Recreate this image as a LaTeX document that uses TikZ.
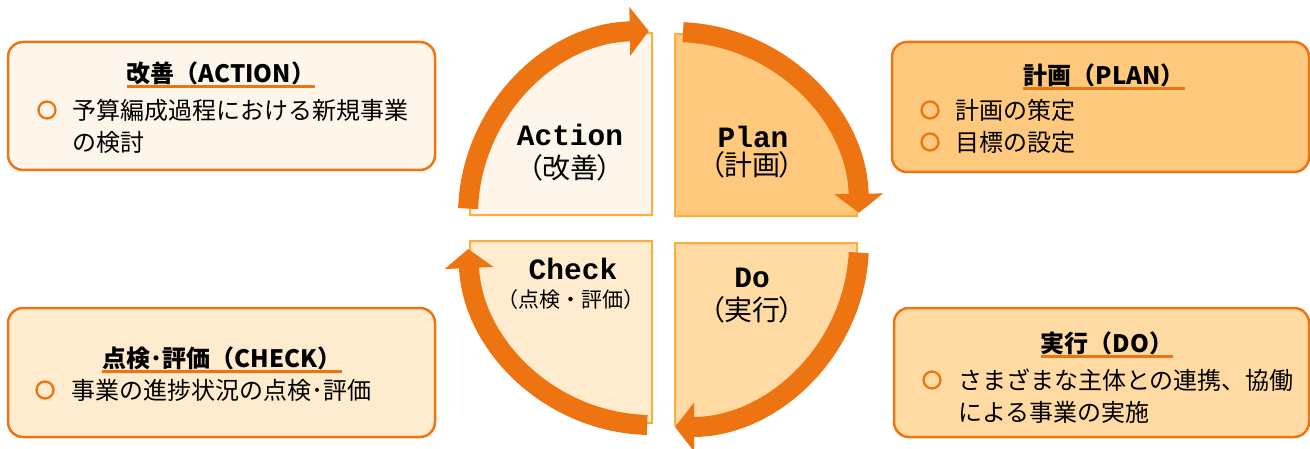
\documentclass[tikz,border=0pt]{standalone}
\usepackage{fontspec}
\setmainfont{Noto Sans CJK JP}
\newfontfamily\jpprop[RawFeature=+palt]{Noto Sans CJK JP}
\newfontfamily\monofont{Liberation Mono}
\usetikzlibrary{arrows.meta}

\definecolor{arroworange}{HTML}{EE7411}
\definecolor{quadline}{HTML}{FBAE3C}
\definecolor{actfill}{HTML}{FFF6EB}
\definecolor{planfill}{HTML}{FFC97D}
\definecolor{checkfill}{HTML}{FFEBCD}
\definecolor{dofill}{HTML}{FFDBA3}

\begin{document}
\begin{tikzpicture}[
            x=1pt, y=1pt,
            infobox/.style={draw=arroworange, line width=2.5pt, rounded corners=15pt},
            quad/.style={draw=quadline, line width=2pt},
            cyclearrow/.style={draw=arroworange, line width=20pt, -{Triangle[width=48pt,length=19pt]}},
            boxtitle/.style={font=\fontsize{24}{28}\selectfont\bfseries, inner sep=0pt},
            boxtext/.style={font=\fontsize{24}{32}\selectfont, align=left, anchor=west, inner sep=0pt},
            bullet/.style={circle, draw=arroworange, line width=2.3pt, minimum size=17pt, inner sep=0pt},
            uline/.style={draw=arroworange, line width=3pt},
            phase/.style={font=\monofont\fontsize{29.5}{32}\selectfont\bfseries, inner sep=0pt},
            phasejp/.style={font=\jpprop\fontsize{28}{32}\selectfont, inner sep=0pt}
            ]
            \useasboundingbox (0,0) rectangle (1310,448);

            % centres of the quadrants
            \coordinate (actc) at (652,233);
            \coordinate (planc) at (675,232);
            \coordinate (doc) at (675,205);
            \coordinate (checkc) at (652,207);

            % quadrants
            \draw[quad, fill=actfill] (actc) -- ++(-182,0) arc[start angle=180, end angle=90, radius=182pt] -- cycle;
            \draw[quad, fill=planfill] (planc) -- ++(0,182) arc[start angle=90, end angle=0, radius=182pt] -- cycle;
            \draw[quad, fill=dofill] (doc) -- ++(182,0) arc[start angle=0, end angle=-90, radius=182pt] -- cycle;
            \draw[quad, fill=checkfill] (checkc) -- ++(0,-182) arc[start angle=270, end angle=180, radius=182pt] -- cycle;

            % cycle arrows
            \draw[cyclearrow] (actc) ++(178:184pt) arc[start angle=178, end angle=91, radius=184pt];
            \draw[cyclearrow] (planc) ++(87.5:184pt) arc[start angle=87.5, end angle=1, radius=184pt];
            \draw[cyclearrow] (doc) ++(-3:184pt) arc[start angle=-3, end angle=-90, radius=184pt];
            \draw[cyclearrow] (checkc) ++(268.5:184pt) arc[start angle=268.5, end angle=182.5, radius=184pt];

            % phase labels
            \node[phase] (actname) at (570,313) {Action};
            \node[phasejp] (actjp) at (570,280) {（改善）};
            \node[phase] (planname) at (753,311) {Plan};
            \node[phasejp] (planjp) at (752,283) {（計画）};
            \node[phase] (doname) at (752,170) {Do};
            \node[phasejp] (dojp) at (752,138) {（実行）};
            \node[phase] (checkname) at (573,179) {Check};
            \node[phasejp, font=\fontsize{21}{24}\selectfont] (checkjp) at (571,148) {（点検・評価）};

            % boxes
            \node[infobox, fill=actfill, minimum width=427pt, minimum height=128pt] (actbox) at (221.5,342) {};
            \node[infobox, fill=planfill, minimum width=417pt, minimum height=130pt] (planbox) at (1100.5,341) {};
            \node[infobox, fill=checkfill, minimum width=427pt, minimum height=129pt] (checkbox) at (221.5,75.5) {};
            \node[infobox, fill=dofill, minimum width=415pt, minimum height=129pt] (dobox) at (1101.5,75.5) {};

            % box titles
            \node[boxtitle] (acttitle) at (221,375) {改善（ACTION）};
            \node[boxtitle] (plantitle) at (1104,373) {計画（PLAN）};
            \node[boxtitle] (checktitle) at (222,90) {点検･評価（CHECK）};
            \node[boxtitle] (dotitle) at (1107,105) {実行（DO）};
            \foreach \t in {acttitle, plantitle, checktitle, dotitle}
                \draw[uline] ([yshift=-2pt]\t.south west) -- ([yshift=-2pt]\t.south east);

            % box texts
            \node[bullet] (actb1) at (47,338) {};
            \node[boxtext] (acttext) at (72,322) {予算編成過程における新規事業\\の検討};
            \node[bullet] (planb1) at (930,338) {};
            \node[bullet] (planb2) at (930,306) {};
            \node[boxtext] (plantext) at (955,322) {計画の策定\\目標の設定};
            \node[bullet] (checkb1) at (45,58) {};
            \node[boxtext] (checktext) at (71,58) {事業の進捗状況の点検･評価};
            \node[bullet] (dob1) at (932,68) {};
            \node[boxtext] (dotext) at (958,52) {さまざまな主体との連携、協働\\による事業の実施};

        \end{tikzpicture}
\end{document}
